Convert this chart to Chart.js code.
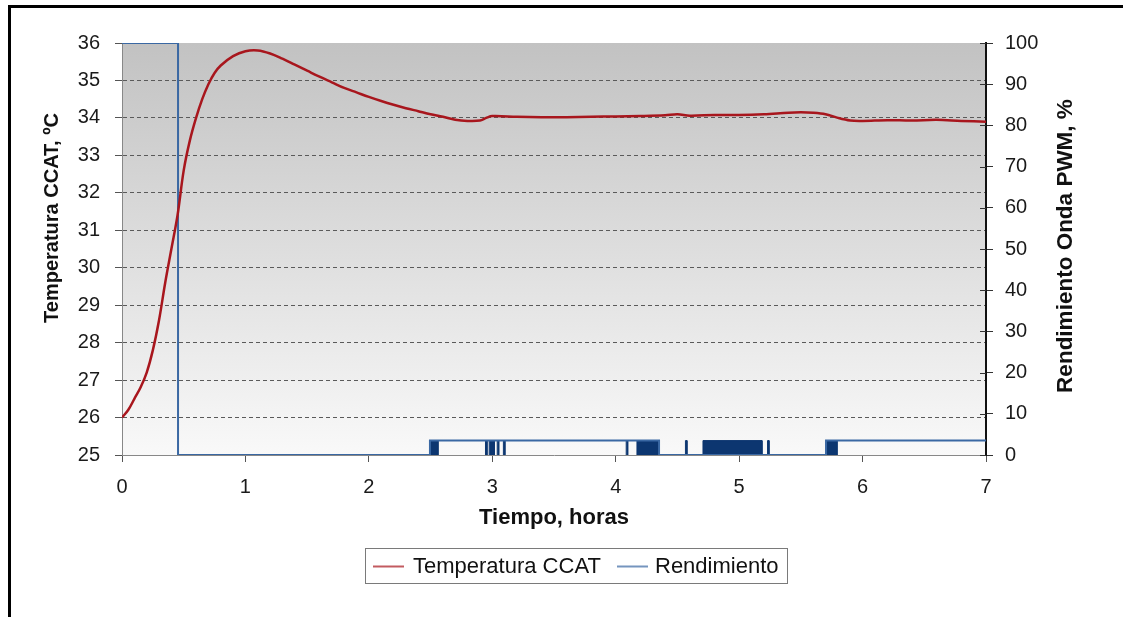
<!DOCTYPE html>
<html>
<head>
<meta charset="utf-8">
<script src="https://cdn.jsdelivr.net/npm/chart.js@4/dist/chart.umd.min.js"></script>
<style>
html,body{margin:0;padding:0;background:#fff;}
#wrap{position:relative;width:1123px;height:617px;}
</style>
</head>
<body>
<div id="wrap"><canvas id="c" width="1123" height="617"></canvas></div>
<script>
// ---- data ----
const xTickLabels = [0,1,2,3,4,5,6,7];
const tempTicks = [25,26,27,28,29,30,31,32,33,34,35,36];
const pwmTicks = [0,10,20,30,40,50,60,70,80,90,100];

const tempHours = [0,0.05,0.1,0.15,0.2,0.25,0.3,0.35,0.4,0.45,0.5,0.55,0.6,0.65,0.7,0.75,0.8,0.9,1.0,1.1,1.2,1.3,1.4,1.5,1.6,1.7,1.8,1.9,2.0,2.1,2.2,2.3,2.4,2.5,2.6,2.7,2.8,2.9,2.95,3.0,3.2,3.4,3.6,3.8,4.0,4.2,4.4,4.5,4.6,4.8,5.0,5.2,5.4,5.5,5.6,5.7,5.8,5.9,6.0,6.2,6.4,6.6,6.8,7.0];
const tempValues = [26.0,26.2,26.5,26.8,27.2,27.8,28.6,29.6,30.5,31.4,32.6,33.4,34.0,34.5,34.9,35.2,35.4,35.65,35.78,35.8,35.72,35.58,35.42,35.26,35.1,34.95,34.8,34.68,34.56,34.45,34.35,34.26,34.18,34.1,34.03,33.95,33.92,33.93,34.0,34.05,34.03,34.02,34.02,34.03,34.04,34.05,34.07,34.1,34.06,34.08,34.08,34.1,34.14,34.15,34.14,34.1,34.0,33.93,33.92,33.94,33.93,33.95,33.92,33.9];

const pwmTimes  = [0, 0.454, 2.495, 4.351, 5.704, 7.0];
const pwmValues = [100, 0, 3.5, 0, 3.5, 3.5];

// fast-switching bursts of the PWM signal (start, end in hours; level in %)
const burstStart = [2.495, 2.945, 2.975, 3.040, 3.090, 4.085, 4.172, 4.565, 4.707, 5.230, 5.704];
const burstEnd   = [2.560, 2.957, 3.016, 3.052, 3.102, 4.097, 4.351, 4.577, 5.185, 5.242, 5.793];
const burstLevel = 3.5;

const seriesNames = ['Temperatura CCAT', 'Rendimiento'];
const axisTitles = {x: 'Tiempo, horas', y: 'Temperatura CCAT, ºC', y1: 'Rendimiento Onda PWM, %'};

// ---- build datasets ----
const tempData = tempHours.map((h, i) => ({x: h, y: tempValues[i]}));
const pwmData = pwmTimes.map((h, i) => ({x: h, y: pwmValues[i]}));
const burstData = [];
burstStart.forEach((s, i) => {
  const e = burstEnd[i];
  burstData.push({x: s, y: 0}, {x: s, y: burstLevel}, {x: e, y: burstLevel}, {x: e, y: 0}, {x: e, y: null});
});

const FONT = "'Liberation Sans', Arial, sans-serif";
const TEMP_COLOR = '#a8161d';
const PWM_COLOR = '#3a68a3';
const BURST_COLOR = '#0c3670';
const TEXT_COLOR = '#1a1a1a';

const bgPlugin = {
  id: 'bg',
  beforeDraw(chart) {
    const {ctx, chartArea: a} = chart;
    ctx.save();
    ctx.fillStyle = '#ffffff';
    ctx.fillRect(0, 0, chart.width, chart.height);
    const g = ctx.createLinearGradient(0, a.top, 0, a.bottom);
    g.addColorStop(0, '#c2c2c2');
    g.addColorStop(1, '#f9f9f9');
    ctx.fillStyle = g;
    ctx.fillRect(a.left, a.top, a.right - a.left, a.bottom - a.top);
    ctx.restore();
  },
  afterDraw(chart) {
    const {ctx, chartArea: a} = chart;
    ctx.save();
    // outer frame (top and left)
    ctx.strokeStyle = '#000';
    ctx.lineWidth = 3;
    ctx.beginPath();
    ctx.moveTo(1123, 6.5);
    ctx.lineTo(9.5, 6.5);
    ctx.lineTo(9.5, 617);
    ctx.stroke();

    // right axis inner tick halves
    const y1 = chart.scales.y1;
    ctx.strokeStyle = '#333';
    ctx.lineWidth = 1;
    pwmTicks.forEach(v => {
      const py = Math.round(y1.getPixelForValue(v)) + 0.5;
      ctx.beginPath();
      ctx.moveTo(a.right - 6, py);
      ctx.lineTo(a.right, py);
      ctx.stroke();
    });
    ctx.restore();

    // axis titles (both read bottom to top)
    ctx.save();
    ctx.fillStyle = '#111';
    ctx.textAlign = 'center';
    ctx.textBaseline = 'middle';
    ctx.font = "bold 20px " + FONT;
    ctx.translate(52, 218);
    ctx.rotate(-Math.PI / 2);
    ctx.fillText(axisTitles.y, 0, 0);
    ctx.restore();

    ctx.save();
    ctx.fillStyle = '#111';
    ctx.textAlign = 'center';
    ctx.textBaseline = 'middle';
    ctx.font = "bold 22.5px " + FONT;
    ctx.translate(1066, 246);
    ctx.rotate(-Math.PI / 2);
    ctx.fillText(axisTitles.y1, 0, 0);
    ctx.restore();

    // legend
    ctx.save();
    const lx = 365, ly = 548, lw = 422, lh = 35;
    ctx.strokeStyle = '#7a7a7a';
    ctx.lineWidth = 1;
    ctx.strokeRect(lx + 0.5, ly + 0.5, lw, lh);
    ctx.font = "22px " + FONT;
    ctx.textBaseline = 'middle';
    ctx.textAlign = 'left';
    const cy = ly + lh / 2 + 1;
    const items = [
      {label: chart.data.datasets[0].label, color: TEMP_COLOR, x: 373, tx: 413},
      {label: chart.data.datasets[1].label, color: PWM_COLOR, x: 617, tx: 655}
    ];
    items.forEach(it => {
      ctx.globalAlpha = 0.7;
      ctx.strokeStyle = it.color;
      ctx.lineWidth = 2;
      ctx.beginPath();
      ctx.moveTo(it.x, cy);
      ctx.lineTo(it.x + 31, cy);
      ctx.stroke();
      ctx.globalAlpha = 1;
      ctx.fillStyle = '#111';
      ctx.fillText(it.label, it.tx, cy);
    });
    ctx.restore();
  }
};

new Chart(document.getElementById('c'), {
  type: 'line',
  data: {
    datasets: [
      {label: seriesNames[0], data: tempData, yAxisID: 'y', borderColor: TEMP_COLOR, borderWidth: 2.5, pointRadius: 0, tension: 0.35, fill: false},
      {label: seriesNames[1], data: pwmData, yAxisID: 'y1', borderColor: PWM_COLOR, borderWidth: 2, pointRadius: 0, stepped: true, fill: false},
      {label: 'bursts', data: burstData, yAxisID: 'y1', borderColor: BURST_COLOR, backgroundColor: BURST_COLOR, borderWidth: 1, pointRadius: 0, fill: 'origin', spanGaps: false}
    ]
  },
  options: {
    responsive: false,
    animation: false,
    events: [],
    layout: {padding: {top: 43, left: 0, right: 0, bottom: 0}},
    plugins: {legend: {display: false}, tooltip: {enabled: false}},
    scales: {
      x: {
        type: 'linear', min: 0, max: 7,
        afterBuildTicks: s => { s.ticks = xTickLabels.map(v => ({value: v})); },
        afterFit: s => { s.height = 162; },
        grid: {drawOnChartArea: false, drawTicks: true, tickLength: 7, tickColor: '#555', tickWidth: 1},
        border: {display: true, color: '#888', width: 1},
        ticks: {color: TEXT_COLOR, font: {family: FONT, size: 20}, padding: 13, maxRotation: 0},
        title: {display: true, text: axisTitles.x, color: '#111', font: {family: FONT, size: 22, weight: 'bold'}, padding: {top: 0, bottom: 86}}
      },
      y: {
        position: 'left', min: 25, max: 36,
        afterBuildTicks: s => { s.ticks = tempTicks.map(v => ({value: v})); },
        afterFit: s => { s.width = 122; },
        grid: {
          color: c => (c.tick && (c.tick.value === 25 || c.tick.value === 36)) ? 'rgba(0,0,0,0)' : '#5a5a5a',
          lineWidth: 1, drawTicks: true, tickLength: 7, tickColor: '#555', tickWidth: 1, tickBorderDash: []
        },
        border: {display: true, color: '#888', width: 1, dash: [4, 3]},
        ticks: {color: TEXT_COLOR, font: {family: FONT, size: 20}, padding: 15},
        title: {display: false}
      },
      y1: {
        position: 'right', min: 0, max: 100,
        afterBuildTicks: s => { s.ticks = pwmTicks.map(v => ({value: v})); },
        afterFit: s => { s.width = 137; },
        grid: {drawOnChartArea: false, drawTicks: true, tickLength: 7, tickColor: '#333', tickWidth: 1},
        border: {display: true, color: '#111', width: 2},
        ticks: {color: TEXT_COLOR, font: {family: FONT, size: 20}, padding: 12},
        title: {display: false}
      }
    }
  },
  plugins: [bgPlugin]
});
</script>
</body>
</html>
